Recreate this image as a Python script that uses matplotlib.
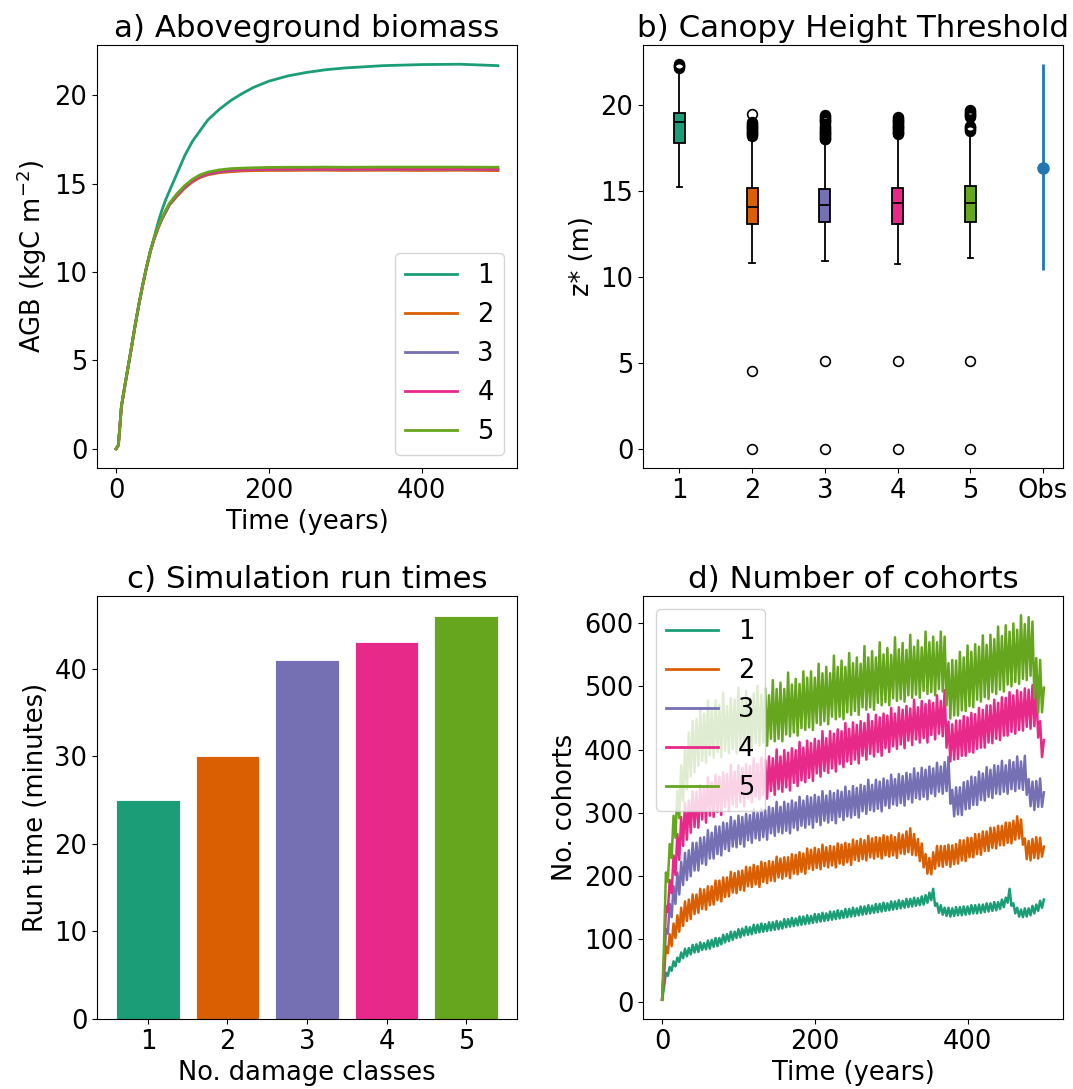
import numpy as np
import matplotlib
matplotlib.use("Agg")
import matplotlib.pyplot as plt

plt.rcParams['font.size'] = 18.5

colors = ['#1b9e77', '#d95f02', '#7570b3', '#e7298a', '#66a61e']
labels = ['1', '2', '3', '4', '5']

# a) aboveground biomass (kgC m-2)
t_agb = [0, 3, 7, 12, 16, 20, 25, 30, 35, 40, 45, 50, 55, 60, 65, 70, 80, 90, 100,
         110, 120, 135, 150, 165, 180, 200, 225, 250, 275, 300, 350, 400, 450, 500]
agb_1 = [0, 0.2, 2.4, 3.7, 4.7, 5.7, 7.0, 8.2, 9.3, 10.3, 11.2, 12.0, 12.8, 13.5, 14.1,
         14.6, 15.6, 16.6, 17.4, 18.0, 18.6, 19.2, 19.7, 20.1, 20.45, 20.8, 21.1, 21.3,
         21.45, 21.55, 21.68, 21.74, 21.76, 21.68]
agb_2 = [0, 0.2, 2.4, 3.7, 4.7, 5.7, 7.0, 8.2, 9.3, 10.3, 11.2, 11.9, 12.5, 13.0, 13.4,
         13.8, 14.3, 14.75, 15.1, 15.35, 15.5, 15.62, 15.68, 15.72, 15.74, 15.75, 15.75,
         15.76, 15.76, 15.75, 15.76, 15.75, 15.76, 15.74]
agb_3 = [0, 0.2, 2.4, 3.7, 4.7, 5.7, 7.0, 8.2, 9.3, 10.3, 11.2, 11.9, 12.5, 13.0, 13.4,
         13.85, 14.35, 14.8, 15.15, 15.4, 15.55, 15.67, 15.74, 15.78, 15.8, 15.81, 15.82,
         15.82, 15.82, 15.81, 15.82, 15.82, 15.82, 15.81]
agb_4 = [0, 0.2, 2.4, 3.7, 4.7, 5.7, 7.0, 8.2, 9.3, 10.3, 11.2, 11.9, 12.5, 13.0, 13.45,
         13.85, 14.38, 14.82, 15.17, 15.42, 15.57, 15.7, 15.77, 15.8, 15.82, 15.83, 15.84,
         15.84, 15.84, 15.83, 15.84, 15.84, 15.84, 15.83]
agb_5 = [0, 0.2, 2.4, 3.7, 4.7, 5.7, 7.0, 8.2, 9.3, 10.3, 11.2, 11.95, 12.55, 13.05, 13.5,
         13.9, 14.45, 14.9, 15.25, 15.5, 15.65, 15.78, 15.85, 15.88, 15.9, 15.92, 15.93,
         15.93, 15.94, 15.93, 15.94, 15.94, 15.94, 15.93]
agb = [agb_1, agb_2, agb_3, agb_4, agb_5]

# b) canopy height threshold z* (m)
z_med = [19.0, 14.08, 14.18, 14.28, 14.28]
z_q1 = [17.79, 13.06, 13.22, 13.1, 13.18]
z_q3 = [19.56, 15.15, 15.1, 15.19, 15.29]
z_lo = [15.25, 10.83, 10.93, 10.73, 11.13]
z_hi = [21.95, 17.95, 17.95, 18.2, 18.3]
z_fliers = [
    [22.15, 22.2, 22.25, 22.3, 22.35, 22.4],
    [0.0, 4.5, 18.2, 18.25, 18.3, 18.35, 18.4, 18.45, 18.5, 18.55, 18.6, 18.65,
     18.7, 18.75, 18.8, 18.85, 18.9, 18.95, 19.0, 19.5],
    [0.0, 5.1, 18.0, 18.05, 18.1, 18.15, 18.2, 18.25, 18.3, 18.35, 18.4, 18.45,
     18.5, 18.55, 18.6, 18.65, 18.7, 18.8, 18.9, 19.0, 19.05, 19.1, 19.15, 19.2,
     19.25, 19.3, 19.35, 19.4],
    [0.0, 5.1, 18.3, 18.35, 18.4, 18.45, 18.5, 18.55, 18.6, 18.65, 18.7, 18.75,
     18.8, 18.85, 18.9, 18.95, 19.0, 19.05, 19.1, 19.15, 19.2, 19.25, 19.3],
    [0.0, 5.1, 18.5, 18.55, 18.6, 18.65, 18.7, 18.75, 18.8, 19.3, 19.35, 19.4,
     19.45, 19.5, 19.55, 19.6, 19.65, 19.7],
]
obs_mid = 16.35
obs_lo = 10.39
obs_hi = 22.37

# c) run times (minutes)
run_time = [25, 30, 41, 43, 46]

# d) number of cohorts, every 2.5 years from 0 to 500
coh_1 = [3, 22, 46, 41, 55, 49, 64, 56, 70, 63, 78, 69, 84, 72, 85, 75, 90, 78, 91, 79,
         94, 82, 93, 83, 97, 84, 98, 87, 101, 88, 101, 91, 106, 94, 107, 96, 111, 98, 111, 101,
         115, 102, 116, 105, 119, 106, 118, 107, 122, 109, 122, 110, 124, 111, 123, 112, 126, 113, 126, 114,
         128, 115, 127, 116, 131, 118, 131, 119, 133, 120, 132, 121, 135, 122, 135, 123, 137, 124, 136, 125,
         139, 126, 139, 127, 141, 128, 140, 129, 143, 130, 143, 131, 145, 132, 144, 133, 147, 134, 147, 135,
         149, 136, 148, 137, 151, 138, 151, 139, 153, 140, 152, 141, 155, 142, 155, 143, 157, 144, 156, 145,
         159, 146, 159, 147, 161, 148, 160, 149, 163, 150, 163, 151, 165, 152, 164, 153, 167, 154, 169, 157,
         173, 161, 179, 152, 156, 141, 153, 138, 149, 136, 149, 135, 148, 136, 150, 137, 150, 137, 151, 138,
         151, 139, 153, 140, 153, 140, 154, 141, 154, 142, 156, 143, 156, 144, 158, 145, 158, 147, 162, 150,
         165, 157, 179, 152, 156, 140, 149, 135, 146, 134, 148, 135, 148, 137, 152, 140, 154, 144, 160, 149,
         162]
coh_2 = [3, 40, 88, 77, 107, 88, 124, 101, 137, 111, 149, 120, 159, 128, 162, 131, 170, 139, 170, 141,
         179, 147, 178, 146, 183, 153, 183, 154, 192, 161, 192, 159, 197, 166, 197, 167, 206, 173, 204, 172,
         207, 177, 208, 176, 214, 183, 213, 182, 217, 186, 215, 182, 222, 190, 220, 188, 223, 192, 222, 191,
         230, 197, 227, 195, 229, 199, 229, 196, 234, 203, 233, 202, 237, 206, 235, 203, 243, 211, 241, 209,
         244, 212, 242, 210, 249, 215, 245, 213, 247, 216, 246, 213, 251, 219, 249, 217, 252, 221, 250, 217,
         257, 225, 255, 223, 258, 226, 256, 224, 263, 229, 259, 227, 261, 230, 260, 227, 264, 232, 262, 230,
         264, 232, 261, 228, 267, 235, 265, 234, 270, 237, 275, 233, 266, 232, 258, 223, 251, 213, 234, 203,
         228, 202, 237, 211, 247, 215, 247, 214, 247, 217, 249, 214, 248, 218, 250, 219, 256, 224, 256, 223,
         260, 229, 260, 229, 266, 234, 266, 233, 270, 239, 270, 239, 276, 244, 276, 243, 279, 248, 279, 248,
         284, 252, 284, 251, 287, 257, 294, 259, 289, 249, 259, 226, 255, 224, 258, 228, 261, 227, 260, 230,
         246]
coh_3 = [3, 55, 115, 108, 155, 134, 183, 155, 205, 170, 222, 185, 236, 193, 240, 199, 252, 208, 252, 208,
         260, 219, 261, 217, 272, 227, 268, 227, 278, 234, 278, 232, 284, 242, 283, 239, 293, 246, 287, 245,
         295, 250, 293, 246, 298, 256, 296, 252, 305, 259, 299, 256, 306, 261, 304, 257, 309, 267, 307, 263,
         317, 269, 309, 267, 317, 271, 314, 267, 319, 276, 316, 272, 325, 279, 319, 276, 326, 281, 324, 276,
         328, 285, 325, 280, 334, 287, 327, 284, 334, 288, 331, 283, 335, 293, 333, 288, 341, 294, 334, 292,
         342, 296, 339, 292, 344, 302, 342, 298, 352, 304, 344, 302, 352, 306, 349, 302, 354, 311, 351, 307,
         360, 313, 353, 311, 361, 315, 358, 311, 363, 321, 361, 316, 370, 323, 363, 321, 371, 325, 368, 321,
         373, 330, 370, 326, 379, 333, 373, 330, 380, 334, 388, 314, 336, 294, 340, 297, 340, 296, 348, 305,
         350, 306, 357, 312, 356, 312, 365, 320, 362, 319, 372, 325, 368, 323, 375, 330, 374, 329, 382, 333,
         375, 330, 383, 337, 380, 334, 389, 338, 381, 336, 390, 328, 353, 310, 349, 304, 350, 309, 354, 309,
         332]
coh_4 = [3, 60, 152, 142, 193, 172, 232, 201, 266, 225, 293, 247, 315, 257, 319, 268, 334, 277, 333, 276,
         343, 289, 342, 284, 356, 295, 348, 293, 360, 301, 357, 296, 364, 309, 361, 303, 376, 313, 365, 309,
         375, 316, 371, 310, 377, 322, 374, 316, 386, 325, 377, 321, 387, 328, 383, 322, 389, 334, 386, 328,
         400, 337, 389, 333, 399, 340, 395, 335, 402, 347, 399, 342, 412, 351, 403, 348, 414, 355, 410, 350,
         417, 362, 414, 357, 429, 366, 418, 363, 429, 370, 425, 365, 432, 377, 429, 372, 442, 381, 433, 377,
         443, 384, 439, 378, 445, 390, 442, 384, 456, 393, 445, 389, 455, 396, 451, 390, 457, 402, 454, 396,
         466, 405, 457, 401, 467, 408, 463, 402, 469, 414, 465, 407, 479, 416, 467, 411, 477, 418, 472, 411,
         478, 423, 474, 416, 486, 425, 477, 421, 494, 403, 444, 381, 440, 384, 446, 385, 446, 390, 453, 390,
         451, 396, 458, 395, 456, 401, 466, 403, 463, 403, 470, 411, 470, 410, 479, 417, 474, 415, 483, 422,
         482, 422, 491, 428, 486, 425, 494, 431, 491, 430, 497, 436, 495, 433, 502, 437, 495, 419, 445, 388,
         415]
coh_5 = [3, 90, 205, 190, 250, 228, 295, 260, 335, 291, 375, 318, 403, 337, 427, 357, 445, 364, 448, 374,
         463, 382, 457, 379, 478, 391, 462, 387, 478, 396, 470, 388, 490, 398, 469, 394, 482, 400, 479, 394,
         498, 405, 477, 401, 493, 406, 481, 401, 489, 410, 501, 406, 487, 411, 497, 406, 486, 417, 510, 413,
         496, 417, 506, 413, 496, 424, 522, 421, 503, 427, 512, 422, 504, 434, 524, 431, 514, 435, 524, 431,
         514, 442, 536, 439, 521, 445, 531, 440, 521, 452, 549, 448, 531, 452, 541, 448, 531, 459, 553, 455,
         537, 461, 546, 455, 536, 467, 564, 463, 546, 467, 556, 463, 546, 474, 570, 470, 551, 475, 561, 470,
         550, 481, 578, 477, 559, 480, 569, 476, 558, 486, 582, 482, 563, 487, 573, 482, 562, 493, 587, 488,
         570, 491, 579, 486, 570, 496, 587, 492, 579, 470, 537, 449, 542, 454, 541, 454, 555, 462, 546, 461,
         565, 469, 555, 467, 567, 479, 563, 476, 581, 483, 566, 480, 582, 491, 575, 488, 595, 495, 580, 492,
         597, 503, 587, 500, 600, 507, 590, 504, 613, 512, 599, 510, 610, 517, 603, 482, 545, 458, 542, 459,
         498]
cohorts = [coh_1, coh_2, coh_3, coh_4, coh_5]

fig = plt.figure(figsize=(10.73, 10.89), dpi=100)
W, H = 1073, 1089
def axes_at(x0, y0, w=420, h=423):
    return fig.add_axes([x0 / W, 1 - (y0 + h) / H, w / W, h / H])

ax_a = axes_at(97, 45)
ax_b = axes_at(643, 45)
ax_c = axes_at(97, 596)
ax_d = axes_at(643, 596)

# a)
for vals, c, lab in zip(agb, colors, labels):
    ax_a.plot(t_agb, vals, color=c, lw=2, label=lab)
ax_a.set_title('a) Aboveground biomass')
ax_a.set_xlabel('Time (years)')
ax_a.set_ylabel('AGB (kgC m$^{-2}$)')
ax_a.set_xticks([0, 200, 400])
ax_a.legend(loc='lower right')

# b)
for i in range(5):
    st = dict(med=z_med[i], q1=z_q1[i], q3=z_q3[i], whislo=z_lo[i],
              whishi=z_hi[i], fliers=z_fliers[i])
    ax_b.bxp([st], positions=[i + 1], widths=0.15, patch_artist=True,
             manage_ticks=False,
             boxprops=dict(facecolor=colors[i], edgecolor='black', linewidth=1.3),
             whiskerprops=dict(linewidth=1.3),
             capprops=dict(linewidth=1.3),
             medianprops=dict(color='black', linewidth=1.3),
             flierprops=dict(marker='o', markerfacecolor='none',
                             markeredgecolor='black', markersize=7,
                             markeredgewidth=1.2))
ax_b.errorbar([6], [obs_mid], yerr=[[obs_mid - obs_lo], [obs_hi - obs_mid]],
              fmt='o', color='#1f77b4', lw=2, ms=8)
ax_b.set_xticks([1, 2, 3, 4, 5, 6])
ax_b.set_xticklabels(labels + ['Obs'])
ax_b.set_xlim(0.5, 6.275)
ax_b.set_ylim(-1.12, 23.5)
ax_b.set_yticks([0, 5, 10, 15, 20])
ax_b.set_title('b) Canopy Height Threshold')
ax_b.set_ylabel('z* (m)')

# c)
ax_c.bar([1, 2, 3, 4, 5], run_time, color=colors, edgecolor='white', linewidth=0.6)
ax_c.set_xticks([1, 2, 3, 4, 5])
ax_c.set_title('c) Simulation run times')
ax_c.set_xlabel('No. damage classes')
ax_c.set_ylabel('Run time (minutes)')

# d)
for vals, c, lab in zip(cohorts, colors, labels):
    t = np.linspace(0, 500, len(vals))
    ax_d.plot(t, vals, color=c, lw=1.8, label=lab)
ax_d.set_title('d) Number of cohorts')
ax_d.set_xlabel('Time (years)')
ax_d.set_ylabel('No. cohorts')
ax_d.set_xticks([0, 200, 400])
ax_d.set_yticks([0, 100, 200, 300, 400, 500, 600])
leg = ax_d.legend(loc='upper left')
for line in leg.get_lines():
    line.set_linewidth(2)

fig.savefig('out.png', dpi=100)
